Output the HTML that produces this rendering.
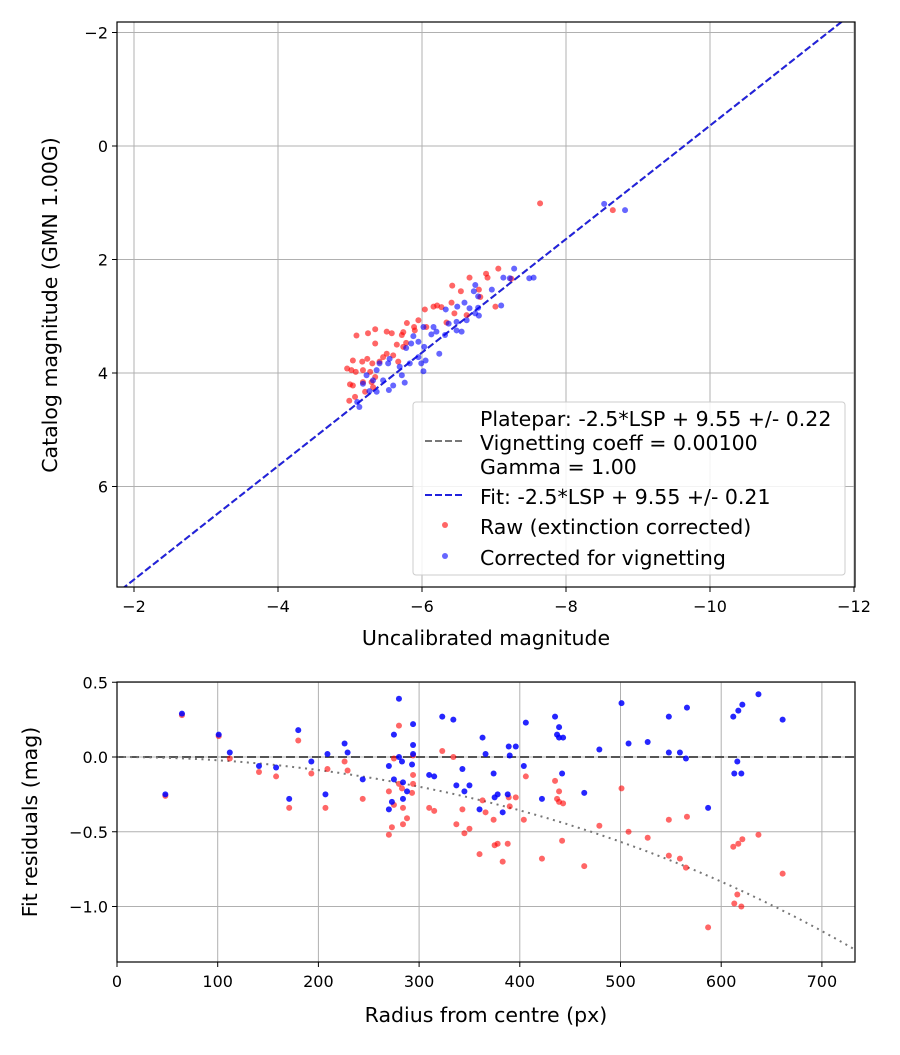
<!DOCTYPE html>
<html><head><meta charset="utf-8"><style>
body{margin:0;background:#fff;}
svg text{font-family:"DejaVu Sans","Liberation Sans",sans-serif;fill:#000;}
</style></head><body>
<svg id="c" width="900" height="1050" xmlns="http://www.w3.org/2000/svg"></svg>
<script>
// ---- Top chart data ----
const rawX=[-7.64,-7.06,-6.89,-6.91,-6.66,-6.42,-6.54,-6.79,-6.81,-7.02,-7.24,-6.41,-6.16,-6.21,-6.27,-6.04,-5.95,-5.79,-5.89,-6.06,-6.34,-6.45,-6.62,-5.09,-5.25,-5.35,-5.35,-5.51,-5.58,-5.72,-5.74,-5.65,-5.78,-5.74,-5.51,-5.60,-5.04,-5.17,-5.24,-5.31,-5.41,-4.96,-5.02,-5.08,-5.18,-5.28,-5.35,-5.00,-5.04,-5.18,-5.30,-5.21,-4.99,-5.32,-5.07,-5.46,-5.67,-5.90,-8.65];
const rawY=[1.01,2.16,2.25,2.32,2.32,2.46,2.56,2.53,2.66,2.83,2.34,2.76,2.83,2.81,2.84,2.88,3.07,3.12,3.19,3.19,3.11,2.95,2.98,3.34,3.30,3.23,3.48,3.27,3.30,3.33,3.28,3.50,3.47,3.54,3.66,3.69,3.78,3.80,3.75,3.83,3.80,3.92,3.95,3.98,3.95,3.98,4.07,4.20,4.22,4.16,4.16,4.33,4.49,4.25,4.42,3.72,3.80,3.25,1.13];
const corX=[-7.28,-7.13,-7.49,-7.55,-7.22,-6.97,-6.74,-6.72,-6.78,-6.59,-6.33,-6.49,-6.66,-6.78,-6.74,-6.79,-7.10,-6.62,-6.48,-6.55,-6.48,-6.37,-6.32,-6.16,-6.20,-6.13,-6.02,-5.88,-5.95,-6.03,-5.85,-5.95,-6.05,-5.99,-6.02,-6.24,-5.78,-5.55,-5.53,-5.69,-5.72,-5.76,-5.60,-5.54,-5.41,-5.37,-5.32,-5.23,-5.18,-5.27,-5.37,-5.10,-5.13,-5.46,-5.83,-8.53,-8.82];
const corY=[2.16,2.32,2.33,2.32,2.33,2.53,2.45,2.56,2.65,2.76,2.88,2.83,2.86,2.85,2.95,2.99,2.81,3.07,3.10,3.27,3.25,3.13,3.33,3.19,3.27,3.32,3.19,3.35,3.45,3.54,3.48,3.72,3.78,3.83,3.97,3.66,3.56,3.75,3.83,3.89,4.04,4.17,4.22,4.30,3.83,3.95,4.13,4.04,4.19,4.32,4.33,4.51,4.60,4.13,3.83,1.02,1.13];
const topXTicks=[-2,-4,-6,-8,-10,-12];
const topYTicks=[-2,0,2,4,6];
const fitZero=9.64;
// ---- Bottom chart data ----
const blueR=[64.5,48,101,112,141,158,171,180,193,207,209,226,229,244,270,270,273,275,280,275,280,283,284,284,288,293,294,294,294,310,315,323,334,343,337,345,350,360,363,366,374,375,378,383,388,389,390,396,404,406,422,435,439,437,439,443,442,464,479,501,508,527,548,548,559,566,565,587,612,617,621,637,661,616,613,620];
const blueRes=[0.29,-0.25,0.15,0.03,-0.06,-0.07,-0.28,0.18,-0.03,-0.25,0.02,0.09,0.03,-0.15,-0.06,-0.35,-0.30,0.15,0.39,-0.15,0,-0.03,-0.17,-0.28,-0.23,-0.05,0.08,0.22,0.02,-0.12,-0.13,0.27,0.25,-0.08,-0.19,-0.23,-0.19,-0.35,0.13,0.02,-0.11,-0.27,-0.25,-0.37,-0.25,0.07,0.01,0.07,-0.06,0.23,-0.28,0.27,0.20,0.15,0.13,0.13,-0.11,-0.24,0.05,0.36,0.09,0.10,0.27,0.03,0.03,0.33,-0.01,-0.34,0.27,0.31,0.35,0.42,0.25,-0.03,-0.11,-0.11];
const redR=[64.5,48,101,112,141,158,171,180,193,207,209,226,229,244,270,270,273,275,280,275,280,283,284,284,288,293,294,294,294,310,315,323,334,343,337,345,350,360,363,366,374,375,378,383,388,389,390,396,404,406,422,435,439,437,439,443,442,464,479,501,508,527,548,548,559,566,565,587,612,617,621,637,661,616,613,620];
const redRes=[0.28,-0.26,0.14,-0.01,-0.10,-0.13,-0.34,0.11,-0.11,-0.34,-0.08,-0.03,-0.09,-0.28,-0.23,-0.52,-0.47,-0.32,0.21,-0.01,-0.18,-0.21,-0.34,-0.45,-0.41,-0.24,-0.12,0.01,-0.18,-0.34,-0.36,0.04,0.00,-0.35,-0.45,-0.51,-0.48,-0.65,-0.29,-0.37,-0.42,-0.59,-0.58,-0.70,-0.58,-0.27,-0.33,-0.27,-0.42,-0.13,-0.68,-0.16,-0.23,-0.28,-0.30,-0.31,-0.56,-0.73,-0.46,-0.21,-0.50,-0.54,-0.42,-0.66,-0.68,-0.40,-0.74,-1.14,-0.60,-0.58,-0.55,-0.52,-0.78,-0.92,-0.98,-1.00];
const botXTicks=[0,100,200,300,400,500,600,700];
const botYTicks=[0.5,0.0,-0.5,-1.0];
const vigCoeff=0.001;

const NS="http://www.w3.org/2000/svg";
const svg=document.getElementById('c');
function mk(tag,attrs,parent){const e=document.createElementNS(NS,tag);for(const k in attrs)e.setAttribute(k,attrs[k]);(parent||svg).appendChild(e);return e;}

const T={l:117,r:855,t:22,b:587};
const tx=v=>134+(-2-v)*72;
const ty=v=>146+v*56.75;
const B={l:117,r:855,t:682,b:962};
const bx=v=>117+v*1.007;
const by=v=>757-v*149.5;
const DOT=3;
const TF=20.5; // title/legend font

function clip(id,A){const cp=mk('clipPath',{id:id});mk('rect',{x:A.l,y:A.t,width:A.r-A.l,height:A.b-A.t},cp);}
clip('ct',T);clip('cb',B);

// ---- TOP ----
const gT=mk('g',{});


topXTicks.forEach(v=>{const x=tx(v);
 const l=mk('line',{x1:x,x2:x,y1:T.t,y2:T.b,stroke:'#b0b0b0','stroke-width':1},gT);
 
 mk('line',{x1:x,x2:x,y1:T.b,y2:T.b+5,stroke:'#000'},gT);
 const t=mk('text',{x:x,y:T.b+25,'text-anchor':'middle','font-size':16},gT);t.textContent=(v<0?'\u2212'+(-v):v);
 });
topYTicks.forEach(v=>{const y=ty(v);
 const l=mk('line',{x1:T.l,x2:T.r,y1:y,y2:y,stroke:'#b0b0b0','stroke-width':1},gT);
 
 mk('line',{x1:T.l-5,x2:T.l,y1:y,y2:y,stroke:'#000'},gT);
 const t=mk('text',{x:T.l-9,y:y+6,'text-anchor':'end','font-size':16},gT);t.textContent=(v<0?'\u2212'+(-v):v);
 });
const gTc=mk('g',{'clip-path':'url(#ct)'},gT);
const x0=-1.5,x1=-12.5;
const pl=mk('line',{x1:tx(x0),y1:ty(x0+fitZero),x2:tx(x1),y2:ty(x1+fitZero),stroke:'#777','stroke-width':2,'stroke-dasharray':'7,3'},gTc);

const fl=mk('line',{x1:tx(x0),y1:ty(x0+fitZero),x2:tx(x1),y2:ty(x1+fitZero),stroke:'#2222dd','stroke-width':2,'stroke-dasharray':'7,3'},gTc);

rawX.forEach((v,i)=>{const c=mk('circle',{cx:tx(v),cy:ty(rawY[i]),r:DOT,fill:'rgba(255,0,0,0.6)'},gTc);
 });
corX.forEach((v,i)=>{const c=mk('circle',{cx:tx(v),cy:ty(corY[i]),r:DOT,fill:'rgba(0,0,255,0.6)'},gTc);
 });
mk('rect',{x:T.l,y:T.t,width:T.r-T.l,height:T.b-T.t,fill:'none',stroke:'#000','stroke-width':1.2},gT);
let t=mk('text',{x:486,y:645,'text-anchor':'middle','font-size':TF},gT);t.textContent='Uncalibrated magnitude';

t=mk('text',{x:57,y:305,'text-anchor':'middle','font-size':TF,transform:'rotate(-90 57 305)'},gT);t.textContent='Catalog magnitude (GMN 1.00G)';

const lg=mk('g',{},gT);

mk('rect',{x:413,y:402,width:432,height:173,rx:3,fill:'rgba(255,255,255,0.85)',stroke:'#ccc'},lg);
mk('line',{x1:425,x2:465,y1:441,y2:441,stroke:'#777','stroke-width':2,'stroke-dasharray':'7,3'},lg);
mk('line',{x1:425,x2:465,y1:495,y2:495,stroke:'#2222dd','stroke-width':2,'stroke-dasharray':'7,3'},lg);
mk('circle',{cx:445,cy:525,r:DOT,fill:'rgba(255,0,0,0.6)'},lg);
mk('circle',{cx:445,cy:556,r:DOT,fill:'rgba(0,0,255,0.6)'},lg);
[['Platepar: -2.5*LSP + 9.55 +/- 0.22',425],['Vignetting coeff = 0.00100',449],['Gamma = 1.00',473],['Fit: -2.5*LSP + 9.55 +/- 0.21',503],['Raw (extinction corrected)',533],['Corrected for vignetting',564]].forEach(a=>{
 const e=mk('text',{x:480,y:a[1]+1,'font-size':TF},lg);e.textContent=a[0];
 });

// ---- BOTTOM ----
const gB=mk('g',{});


botXTicks.forEach(v=>{const x=bx(v);
 const l=mk('line',{x1:x,x2:x,y1:B.t,y2:B.b,stroke:'#b0b0b0','stroke-width':1},gB);
 
 mk('line',{x1:x,x2:x,y1:B.b,y2:B.b+5,stroke:'#000'},gB);
 const e=mk('text',{x:x,y:B.b+25,'text-anchor':'middle','font-size':16},gB);e.textContent=v;
 });
botYTicks.forEach(v=>{const y=by(v);
 const l=mk('line',{x1:B.l,x2:B.r,y1:y,y2:y,stroke:'#b0b0b0','stroke-width':1},gB);
 
 mk('line',{x1:B.l-5,x2:B.l,y1:y,y2:y,stroke:'#000'},gB);
 const e=mk('text',{x:B.l-9,y:y+6,'text-anchor':'end','font-size':16},gB);e.textContent=(v<0?'\u2212'+(-v).toFixed(1):v.toFixed(1));
 });
const gBc=mk('g',{'clip-path':'url(#cb)'},gB);
const zl=mk('line',{x1:B.l,x2:B.r,y1:by(0),y2:by(0),stroke:'#555','stroke-width':2,'stroke-dasharray':'9,4'},gBc);

let d='';for(let r=0;r<=740;r+=5){const m=2.5*Math.log10(Math.pow(Math.cos(r*vigCoeff),4));d+=(r?'L':'M')+bx(r).toFixed(1)+','+by(m).toFixed(1);}
const vc=mk('path',{d:d,fill:'none',stroke:'#777','stroke-width':2,'stroke-dasharray':'2,4.5'},gBc);

redR.forEach((v,i)=>{const c=mk('circle',{cx:bx(v),cy:by(redRes[i]),r:DOT,fill:'rgba(255,0,0,0.6)'},gBc);
 });
blueR.forEach((v,i)=>{const c=mk('circle',{cx:bx(v),cy:by(blueRes[i]),r:DOT,fill:'rgba(0,0,255,0.85)'},gBc);
 });
mk('rect',{x:B.l,y:B.t,width:B.r-B.l,height:B.b-B.t,fill:'none',stroke:'#000','stroke-width':1.2},gB);
t=mk('text',{x:486,y:1022,'text-anchor':'middle','font-size':TF},gB);t.textContent='Radius from centre (px)';

t=mk('text',{x:37,y:822,'text-anchor':'middle','font-size':TF,transform:'rotate(-90 37 822)'},gB);t.textContent='Fit residuals (mag)';

</script>
</body></html>
